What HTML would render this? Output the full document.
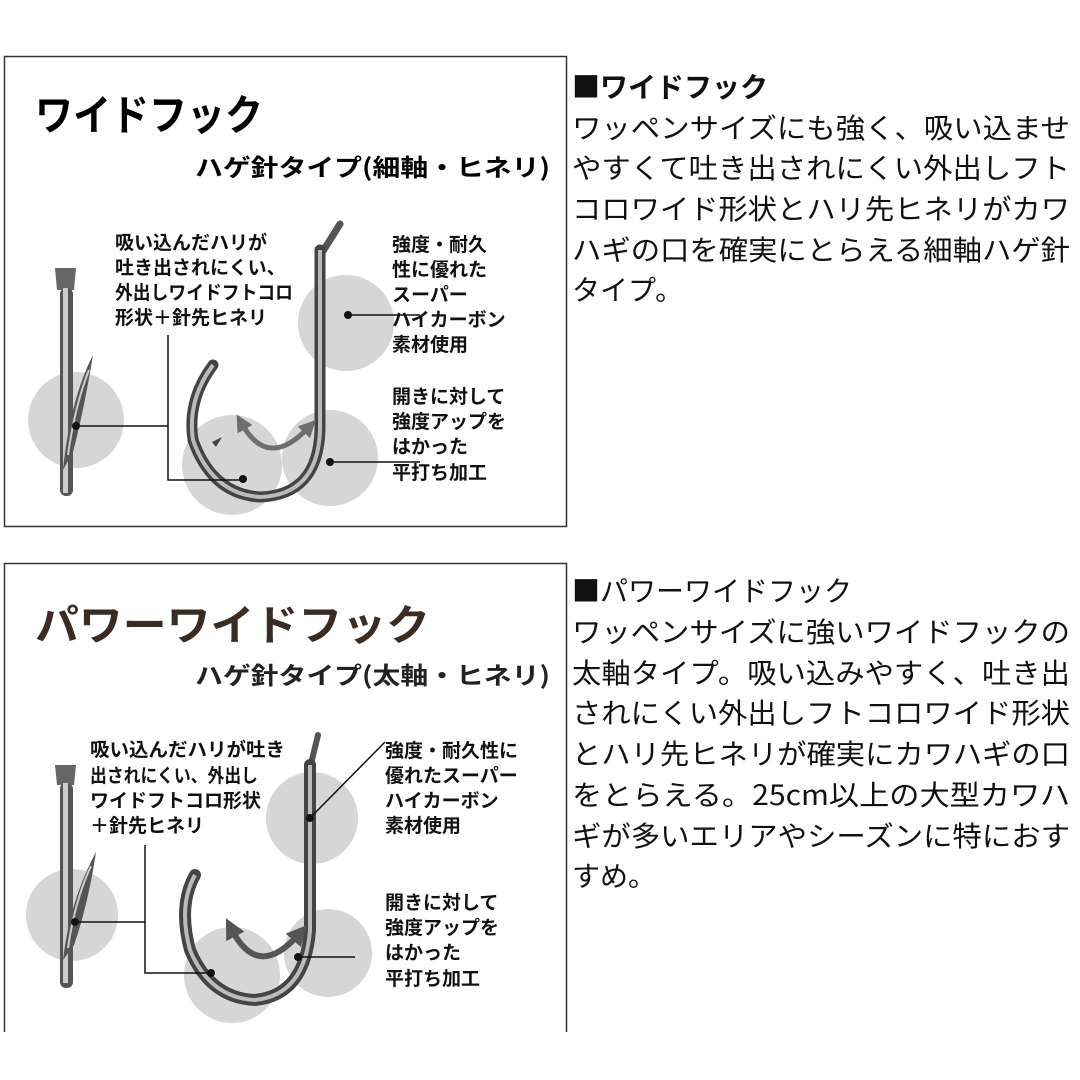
<!DOCTYPE html>
<html><head><meta charset="utf-8"><style>
html,body{margin:0;padding:0;background:#fff;}
svg{display:block;}
text{font-family:"Noto Sans CJK JP","Liberation Sans",sans-serif;}
.b{font-weight:bold;}
</style></head><body>
<svg width="1080" height="1080" viewBox="0 0 1080 1080" xmlns="http://www.w3.org/2000/svg">
<defs>
<marker id="ah" markerWidth="3.4" markerHeight="3.4" refX="1.2" refY="1.7" orient="auto-start-reverse" markerUnits="strokeWidth"><path d="M0,0 L3.4,1.7 L0,3.4 Z" fill="#6e6e6e"/></marker>
<marker id="ah2" markerWidth="3.4" markerHeight="3.4" refX="1.2" refY="1.7" orient="auto-start-reverse" markerUnits="strokeWidth"><path d="M0,0 L3.4,1.7 L0,3.4 Z" fill="#555"/></marker>
</defs>
<!-- Panel 1 -->
<rect x="4.5" y="56.5" width="562" height="470" fill="none" stroke="#333" stroke-width="1.5"/>
<text x="35" y="130" font-size="42" class="b" textLength="228" lengthAdjust="spacingAndGlyphs">ワイドフック</text>
<text x="195" y="176" font-size="24" class="b" textLength="355" lengthAdjust="spacingAndGlyphs">ハゲ針タイプ(細軸・ヒネリ)</text>
<g fill="#d6d6d6">
<circle cx="76" cy="420" r="48"/><circle cx="232" cy="465" r="50"/><circle cx="330" cy="458" r="48"/><circle cx="346" cy="323" r="48"/>
</g>
<path d="M55 268 L76 268 L74 290 L57 290 Z" fill="#666"/>
<rect x="60" y="288" width="13" height="208" rx="6" fill="#555"/>
<rect x="63" y="288" width="5" height="205" fill="#ccc"/>
<path d="M63 470 Q70 400 93 355 Q84 410 73 452 Z" fill="#555"/>
<path d="M68 455 Q75 405 89 370" stroke="#ccc" stroke-width="2" fill="none"/>
<path d="M320 256 L340 224" stroke="#555" stroke-width="7" fill="none" stroke-linecap="round"/>
<path d="M320 250 L320 430 Q318 495 260 497 Q212 494 193 440 Q187 400 213 365" stroke="#444" stroke-width="11" fill="none" stroke-linecap="round"/>
<path d="M320 250 L320 430 Q318 495 260 497 Q212 494 193 440 Q187 400 213 365" stroke="#bbb" stroke-width="4" fill="none"/>
<path d="M212 442 L222 437 L216 447 Z" fill="#444"/>
<path d="M242 424 Q268 470 308 428" stroke="#6e6e6e" stroke-width="5" fill="none" marker-start="url(#ah)" marker-end="url(#ah)"/>
<g stroke="#111" stroke-width="1.5" fill="none">
<path d="M348 315 L420 315"/><path d="M76 426 L168 426 L168 335 M168 426 L168 480 L243 480"/><path d="M330 462 L420 462"/>
</g>
<g fill="#111"><circle cx="348" cy="315" r="4"/><circle cx="76" cy="426" r="4"/><circle cx="243" cy="479" r="4"/><circle cx="330" cy="462" r="4"/></g>
<g font-size="19" class="b" fill="#111">
<text x="115" y="249">吸い込んだハリが</text>
<text x="115" y="274">吐き出されにくい、</text>
<text x="115" y="299" textLength="178" lengthAdjust="spacingAndGlyphs">外出しワイドフトコロ</text>
<text x="115" y="324">形状＋針先ヒネリ</text>
<text x="392" y="251">強度・耐久</text>
<text x="392" y="276">性に優れた</text>
<text x="392" y="301">スーパー</text>
<text x="392" y="326">ハイカーボン</text>
<text x="392" y="351">素材使用</text>
<text x="392" y="403">開きに対して</text>
<text x="392" y="428">強度アップを</text>
<text x="392" y="453">はかった</text>
<text x="392" y="479">平打ち加工</text>
</g>
<!-- Panel 2 -->
<path d="M4.5 1032 L4.5 563.5 L566.5 563.5 L566.5 1032" fill="none" stroke="#333" stroke-width="1.5"/>
<text x="35" y="640" font-size="42" class="b" fill="#3a2c22" textLength="395" lengthAdjust="spacingAndGlyphs">パワーワイドフック</text>
<text x="195" y="684" font-size="24" class="b" fill="#222" textLength="355" lengthAdjust="spacingAndGlyphs">ハゲ針タイプ(太軸・ヒネリ)</text>
<g fill="#d6d6d6">
<circle cx="72" cy="915" r="46"/><circle cx="232" cy="975" r="48"/><circle cx="328" cy="953" r="44"/><circle cx="312" cy="818" r="46"/>
</g>
<path d="M55 765 L76 765 L74 785 L57 785 Z" fill="#666"/>
<rect x="60" y="783" width="13" height="205" rx="6" fill="#555"/>
<rect x="63" y="783" width="5" height="200" fill="#ccc"/>
<path d="M63 960 Q70 900 96 852 Q88 905 74 945 Z" fill="#555"/>
<path d="M68 948 Q75 900 91 866" stroke="#ccc" stroke-width="2" fill="none"/>
<path d="M310 768 L318 735" stroke="#555" stroke-width="6" fill="none" stroke-linecap="round"/>
<path d="M310 765 L310 930 Q305 995 255 1000 Q210 998 190 950 Q178 905 195 875" stroke="#444" stroke-width="12" fill="none" stroke-linecap="round"/>
<path d="M310 765 L310 930 Q305 995 255 1000 Q210 998 190 950 Q178 905 195 875" stroke="#bbb" stroke-width="4" fill="none"/>
<path d="M232 930 Q258 980 298 935" stroke="#555" stroke-width="6" fill="none" marker-start="url(#ah2)" marker-end="url(#ah2)"/>
<g stroke="#111" stroke-width="1.5" fill="none">
<path d="M310 818 L385 742"/><path d="M75 922 L145 922 M145 845 L145 973 L210 973"/><path d="M298 957 L355 957"/>
</g>
<g fill="#111"><circle cx="310" cy="818" r="4"/><circle cx="75" cy="922" r="4"/><circle cx="211" cy="973" r="4"/><circle cx="298" cy="957" r="4"/></g>
<g font-size="19" class="b" fill="#111">
<text x="90" y="756" textLength="195" lengthAdjust="spacingAndGlyphs">吸い込んだハリが吐き</text>
<text x="90" y="782" textLength="168" lengthAdjust="spacingAndGlyphs">出されにくい、外出し</text>
<text x="90" y="807">ワイドフトコロ形状</text>
<text x="90" y="832">＋針先ヒネリ</text>
<text x="385" y="757">強度・耐久性に</text>
<text x="385" y="782">優れたスーパー</text>
<text x="385" y="807">ハイカーボン</text>
<text x="385" y="832">素材使用</text>
<text x="385" y="909">開きに対して</text>
<text x="385" y="934">強度アップを</text>
<text x="385" y="959">はかった</text>
<text x="385" y="985">平打ち加工</text>
</g>
<g font-size="28" fill="#111">
<text x="572" y="97" class="b">■ワイドフック</text>
<text x="572" y="138" textLength="498" lengthAdjust="spacingAndGlyphs">ワッペンサイズにも強く、吸い込ませ</text>
<text x="572" y="178" textLength="498" lengthAdjust="spacingAndGlyphs">やすくて吐き出されにくい外出しフト</text>
<text x="572" y="219" textLength="498" lengthAdjust="spacingAndGlyphs">コロワイド形状とハリ先ヒネリがカワ</text>
<text x="572" y="260" textLength="498" lengthAdjust="spacingAndGlyphs">ハギの口を確実にとらえる細軸ハゲ針</text>
<text x="572" y="300">タイプ。</text>
<text x="572" y="601">■パワーワイドフック</text>
<text x="572" y="642" textLength="498" lengthAdjust="spacingAndGlyphs">ワッペンサイズに強いワイドフックの</text>
<text x="572" y="683" textLength="498" lengthAdjust="spacingAndGlyphs">太軸タイプ。吸い込みやすく、吐き出</text>
<text x="572" y="723" textLength="498" lengthAdjust="spacingAndGlyphs">されにくい外出しフトコロワイド形状</text>
<text x="572" y="764" textLength="498" lengthAdjust="spacingAndGlyphs">とハリ先ヒネリが確実にカワハギの口</text>
<text x="572" y="805" textLength="498" lengthAdjust="spacingAndGlyphs">をとらえる。25cm以上の大型カワハ</text>
<text x="572" y="846" textLength="498" lengthAdjust="spacingAndGlyphs">ギが多いエリアやシーズンに特におす</text>
<text x="572" y="886">すめ。</text>
</g>
</svg>
</body></html>
